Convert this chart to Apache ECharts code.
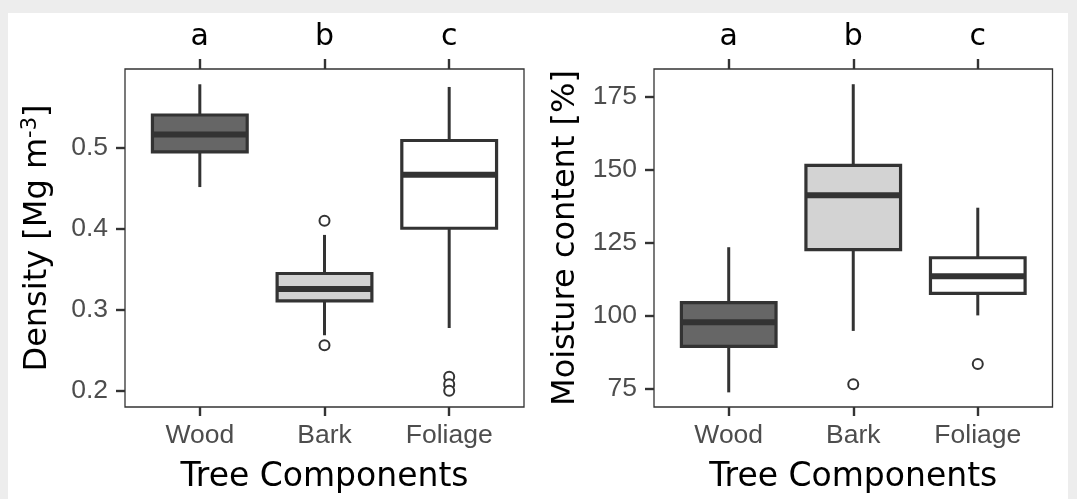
<!DOCTYPE html>
<html>
<head>
<meta charset="utf-8">
<script src="https://cdn.jsdelivr.net/npm/echarts@6/dist/echarts.min.js"></script>
<style>
html, body { margin: 0; padding: 0; background: #ededed; }
#main { width: 1077px; height: 499px; }
</style>
</head>
<body>
<div id="main"></div>
<script>
// categories and letters above each box
var categories = ['Wood', 'Bark', 'Foliage'];
var letters = ['a', 'b', 'c'];
var catPos = [1, 2, 3];

// box stats: [lower whisker, Q1, median, Q3, upper whisker]
var densityStats = [
    [0.4512, 0.4944, 0.5159, 0.5399, 0.5777],
    [0.2688, 0.3110, 0.3256, 0.3448, 0.3923],
    [0.2777, 0.4005, 0.4663, 0.5085, 0.5744]
];
// outliers: [category position, value]
var densityOutliers = [[2, 0.4098], [2, 0.2566], [3, 0.2176], [3, 0.2085], [3, 0.2004]];
var densityTicks = [0.2, 0.3, 0.4, 0.5];

var moistureStats = [
    [73.9, 89.6, 97.9, 104.6, 123.5],
    [94.9, 122.7, 141.3, 151.5, 179.2],
    [100.2, 107.7, 113.6, 119.9, 137.0]
];
var moistureOutliers = [[2, 76.7], [3, 83.6]];
var moistureTicks = [75, 100, 125, 150, 175];

var fills = ['#666666', '#d3d3d3', '#ffffff'];
var dark = '#333333';

var myChart = echarts.init(document.getElementById('main'));

function boxData(stats) {
    var out = [];
    stats.forEach(function(s, i) {
        out.push([catPos[i]].concat(s));
    });
    return out;
}

function renderBox(params, api) {
    var x = api.value(0);
    var lo = api.coord([x, api.value(1)]);
    var q1 = api.coord([x, api.value(2)]);
    var md = api.coord([x, api.value(3)]);
    var q3 = api.coord([x, api.value(4)]);
    var hi = api.coord([x, api.value(5)]);
    var half = api.size([0.76, 0])[0] / 2;
    var cx = lo[0];
    var lineStyle = { stroke: dark, lineWidth: 3, fill: null };
    return {
        type: 'group',
        children: [{
            type: 'line',
            shape: { x1: cx, y1: hi[1], x2: cx, y2: q3[1] },
            style: lineStyle
        }, {
            type: 'line',
            shape: { x1: cx, y1: q1[1], x2: cx, y2: lo[1] },
            style: lineStyle
        }, {
            type: 'rect',
            shape: { x: cx - half, y: q3[1], width: half * 2, height: q1[1] - q3[1] },
            style: { fill: fills[params.dataIndex], stroke: dark, lineWidth: 3.2 }
        }, {
            type: 'line',
            shape: { x1: cx - half, y1: md[1], x2: cx + half, y2: md[1] },
            style: { stroke: dark, lineWidth: 6 }
        }]
    };
}

function xAxes(gridIndex) {
    return [{
        type: 'value',
        gridIndex: gridIndex,
        position: 'bottom',
        min: 0.4,
        max: 3.6,
        axisLine: { show: false },
        splitLine: { show: false },
        axisTick: { show: true, customValues: catPos, length: 9, lineStyle: { color: dark, width: 2.4 } },
        axisLabel: {
            customValues: catPos,
            margin: 15.5,
            color: '#4d4d4d',
            fontFamily: 'Liberation Sans',
            fontSize: 26.5,
            formatter: function(v) { return categories[Math.round(v) - 1]; }
        },
        name: 'Tree Components',
        nameLocation: 'middle',
        nameGap: 54,
        nameTextStyle: { color: '#000', fontFamily: 'DejaVu Sans', fontSize: 33 }
    }, {
        type: 'value',
        gridIndex: gridIndex,
        position: 'top',
        min: 0.4,
        max: 3.6,
        axisLine: { show: false },
        splitLine: { show: false },
        axisTick: { show: true, customValues: catPos, length: 10, lineStyle: { color: dark, width: 2.4 } },
        axisLabel: {
            customValues: catPos,
            margin: 17,
            color: '#000',
            fontFamily: 'DejaVu Sans',
            fontSize: 30,
            formatter: function(v) { return letters[Math.round(v) - 1]; }
        }
    }];
}

function yAxis(gridIndex, min, max, ticks, name, digits, gap) {
    return {
        type: 'value',
        gridIndex: gridIndex,
        min: min,
        max: max,
        axisLine: { show: false },
        splitLine: { show: false },
        axisTick: { show: true, customValues: ticks, length: 9, lineStyle: { color: dark, width: 2.4 } },
        axisLabel: {
            customValues: ticks,
            margin: 17,
            color: '#4d4d4d',
            fontFamily: 'Liberation Sans',
            fontSize: 26.5,
            formatter: function(v) { return v.toFixed(digits); }
        },
        name: name,
        nameLocation: 'middle',
        nameGap: gap,
        nameRotate: 90,
        nameTextStyle: {
            color: '#000',
            fontFamily: 'DejaVu Sans',
            fontSize: 32,
            rich: {
                sup: { fontFamily: 'DejaVu Sans', fontSize: 21, color: '#000', verticalAlign: 'top', padding: [0, 0, 14, 0] }
            }
        }
    };
}

var option = {
    backgroundColor: '#ededed',
    animation: false,
    graphic: [{
        type: 'rect',
        z: -10,
        silent: true,
        shape: { x: 8, y: 13, width: 1060, height: 486 },
        style: { fill: '#ffffff' }
    }],
    grid: [{
        left: 125, top: 69, width: 399, height: 340,
        show: true, backgroundColor: '#ffffff', borderColor: dark, borderWidth: 1.3
    }, {
        left: 654, top: 69, width: 398.5, height: 340,
        show: true, backgroundColor: '#ffffff', borderColor: dark, borderWidth: 1.3
    }],
    xAxis: xAxes(0).concat(xAxes(1)),
    yAxis: [
        yAxis(0, 0.1805, 0.5965, densityTicks, 'Density [Mg m{sup|-3}]', 1, 70),
        yAxis(1, 68.9, 184.4, moistureTicks, 'Moisture content [%]', 0, 72)
    ],
    series: [{
        type: 'custom',
        name: 'Density',
        xAxisIndex: 0,
        yAxisIndex: 0,
        renderItem: renderBox,
        encode: { x: 0, y: [1, 2, 3, 4, 5] },
        data: boxData(densityStats),
        clip: false
    }, {
        type: 'scatter',
        xAxisIndex: 0,
        yAxisIndex: 0,
        data: densityOutliers,
        symbol: 'circle',
        symbolSize: 10,
        itemStyle: { color: '#ffffff', borderColor: dark, borderWidth: 2, opacity: 1 }
    }, {
        type: 'custom',
        name: 'Moisture',
        xAxisIndex: 2,
        yAxisIndex: 1,
        renderItem: renderBox,
        encode: { x: 0, y: [1, 2, 3, 4, 5] },
        data: boxData(moistureStats),
        clip: false
    }, {
        type: 'scatter',
        xAxisIndex: 2,
        yAxisIndex: 1,
        data: moistureOutliers,
        symbol: 'circle',
        symbolSize: 10,
        itemStyle: { color: '#ffffff', borderColor: dark, borderWidth: 2, opacity: 1 }
    }]
};
myChart.setOption(option);
</script>
</body>
</html>
